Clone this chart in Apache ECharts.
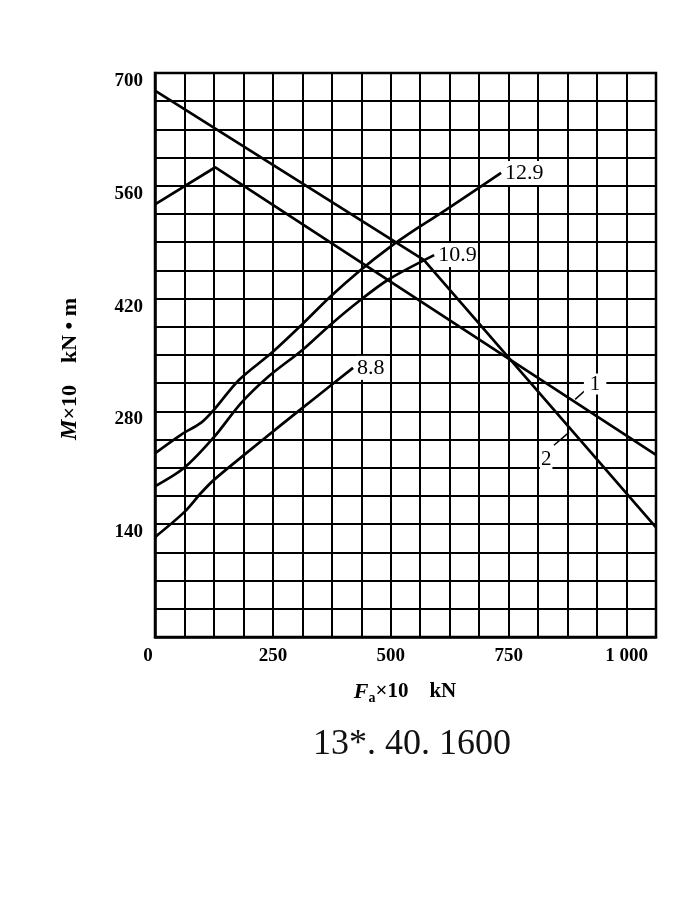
<!DOCTYPE html>
<html>
<head>
<meta charset="utf-8">
<script src="https://cdn.jsdelivr.net/npm/echarts@6/dist/echarts.min.js"></script>
<style>
html,body{margin:0;padding:0;background:#fff;}
#chart{width:685px;height:912px;}
</style>
</head>
<body>
<div id="chart"></div>
<script>
// ---- data (x: Fa×10 kN, y: M×10 kN·m) ----
const line1X = [0, 128, 1062.5];
const line1Y = [537, 583, 226];
const line2X = [0, 570, 1062.5];
const line2Y = [678, 468, 136];
const g129X = [0, 55, 98, 125, 178, 250, 312, 371, 433, 496, 558, 617, 734];
const g129Y = [228, 251, 266, 282, 319, 354, 388, 422, 454, 483, 508, 530, 576];
const g109X = [0, 62, 125, 182, 240, 312, 371, 433, 496, 592];
const g109Y = [187, 210, 248, 290, 323, 356, 387, 417, 444, 474];
const g88X = [0, 62, 98, 125, 189, 267, 340, 420];
const g88Y = [124, 155, 179, 195, 226, 263, 297, 334];
const gradeNames = ['12.9', '10.9', '8.8'];
const curveNames = ['1', '2'];
// leader lines for curve labels 1 and 2
const lead1X = [891, 918];
const lead1Y = [295, 309];
const lead2X = [878, 846];
const lead2Y = [254, 238];
const xTicks = [0, 250, 500, 750, 1000];
const xTickText = ['0', '250', '500', '750', '1 000'];
const yTicks = [140, 280, 420, 560, 700];
const xName = ['F', 'a', '×10    kN'];
const yName = ['M', '×10    kN • m'];
const caption = '13*. 40. 1600';

function pts(xs, ys) { return xs.map((x, i) => [x, ys[i]]); }

const chart = echarts.init(document.getElementById('chart'), null, {renderer: 'canvas'});
const serif = 'Liberation Serif';
const lineStyle = {color: '#000', width: 2.7};

function curve(xs, ys, smooth, label) {
  return {
    type: 'line', data: pts(xs, ys), smooth: smooth, symbol: 'none',
    lineStyle: lineStyle, silent: true, z: 5,
    endLabel: label ? {
      show: true, formatter: label, color: '#000',
      fontFamily: serif, fontSize: 22, distance: 3,
      backgroundColor: '#fff', padding: [1, 1]
    } : {show: false}
  };
}

const option = {
  backgroundColor: '#fff',
  animation: false,
  grid: {left: 155, right: 29, top: 73, bottom: 275, show: true, borderColor: '#000', borderWidth: 2.5, backgroundColor: 'transparent'},
  graphic: [
    {
      type: 'text', x: 412, y: 745, z: 10,
      style: {text: caption, fontFamily: serif, fontSize: 36, fill: '#111', align: 'center', verticalAlign: 'middle'}
    },
    {
      type: 'text', x: 405, y: 692, z: 10,
      style: {
        text: '{i|' + xName[0] + '}{s|' + xName[1] + '}{t|' + xName[2] + '}',
        align: 'center', verticalAlign: 'middle',
        rich: {
          i: {fontFamily: serif, fontStyle: 'italic', fontWeight: 'bold', fontSize: 22, fill: '#000'},
          s: {fontFamily: serif, fontWeight: 'bold', fontSize: 14, fill: '#000', padding: [12, 0, 0, 0]},
          t: {fontFamily: serif, fontWeight: 'bold', fontSize: 21, fill: '#000'}
        }
      }
    },
    {
      type: 'text', x: 70, y: 369, rotation: Math.PI / 2, z: 10,
      style: {
        text: '{i|' + yName[0] + '}{t|' + yName[1] + '}',
        align: 'center', verticalAlign: 'middle',
        rich: {
          i: {fontFamily: serif, fontStyle: 'italic', fontWeight: 'bold', fontSize: 23, fill: '#000'},
          t: {fontFamily: serif, fontWeight: 'bold', fontSize: 22, fill: '#000'}
        }
      }
    }
  ],
  xAxis: {
    type: 'value', min: 0, max: 1062.5, interval: 62.5,
    axisLine: {show: true, lineStyle: {color: '#000', width: 2.5}},
    axisTick: {show: false},
    splitLine: {show: true, lineStyle: {color: '#000', width: 2}},
    axisLabel: {
      color: '#000', fontFamily: serif, fontSize: 19, fontWeight: 'bold', margin: 10,
      formatter: v => { const i = xTicks.indexOf(v); return i >= 0 ? (i === 0 ? '{z|0}' : xTickText[i]) : ''; },
      rich: {z: {fontFamily: serif, fontSize: 19, fontWeight: 'bold', color: '#000', padding: [0, 14, 0, 0]}}
    }
  },
  yAxis: {
    type: 'value', min: 0, max: 700, interval: 35,
    axisLine: {show: true, lineStyle: {color: '#000', width: 2.5}},
    axisTick: {show: false},
    splitLine: {show: true, lineStyle: {color: '#000', width: 2}},
    axisLabel: {
      color: '#000', fontFamily: serif, fontSize: 19, fontWeight: 'bold', margin: 12,
      verticalAlign: 'top', lineHeight: 16,
      formatter: v => yTicks.indexOf(v) >= 0 ? String(v) : ''
    }
  },
  series: [
    curve(line1X, line1Y, false),
    curve(line2X, line2Y, false),
    curve(g129X, g129Y, 0.3, gradeNames[0]),
    curve(g109X, g109Y, 0.3, gradeNames[1]),
    curve(g88X, g88Y, 0.3, gradeNames[2]),
    {
      type: 'line', data: pts(lead1X, lead1Y), symbol: 'none', silent: true, z: 6,
      lineStyle: {color: '#000', width: 1.5},
      endLabel: {show: true, formatter: curveNames[0], color: '#000', fontFamily: serif, fontSize: 21,
        backgroundColor: '#fff', padding: [0, 6], distance: 0, offset: [-4, -4]}
    },
    {
      type: 'line', data: pts(lead2X, lead2Y), symbol: 'none', silent: true, z: 6,
      lineStyle: {color: '#000', width: 1.5},
      endLabel: {show: true, formatter: curveNames[1], color: '#000', fontFamily: serif, fontSize: 21,
        backgroundColor: '#fff', padding: [0, 1], distance: 0, offset: [-14, 14]}
    }
  ]
};
chart.setOption(option);
</script>
</body>
</html>
